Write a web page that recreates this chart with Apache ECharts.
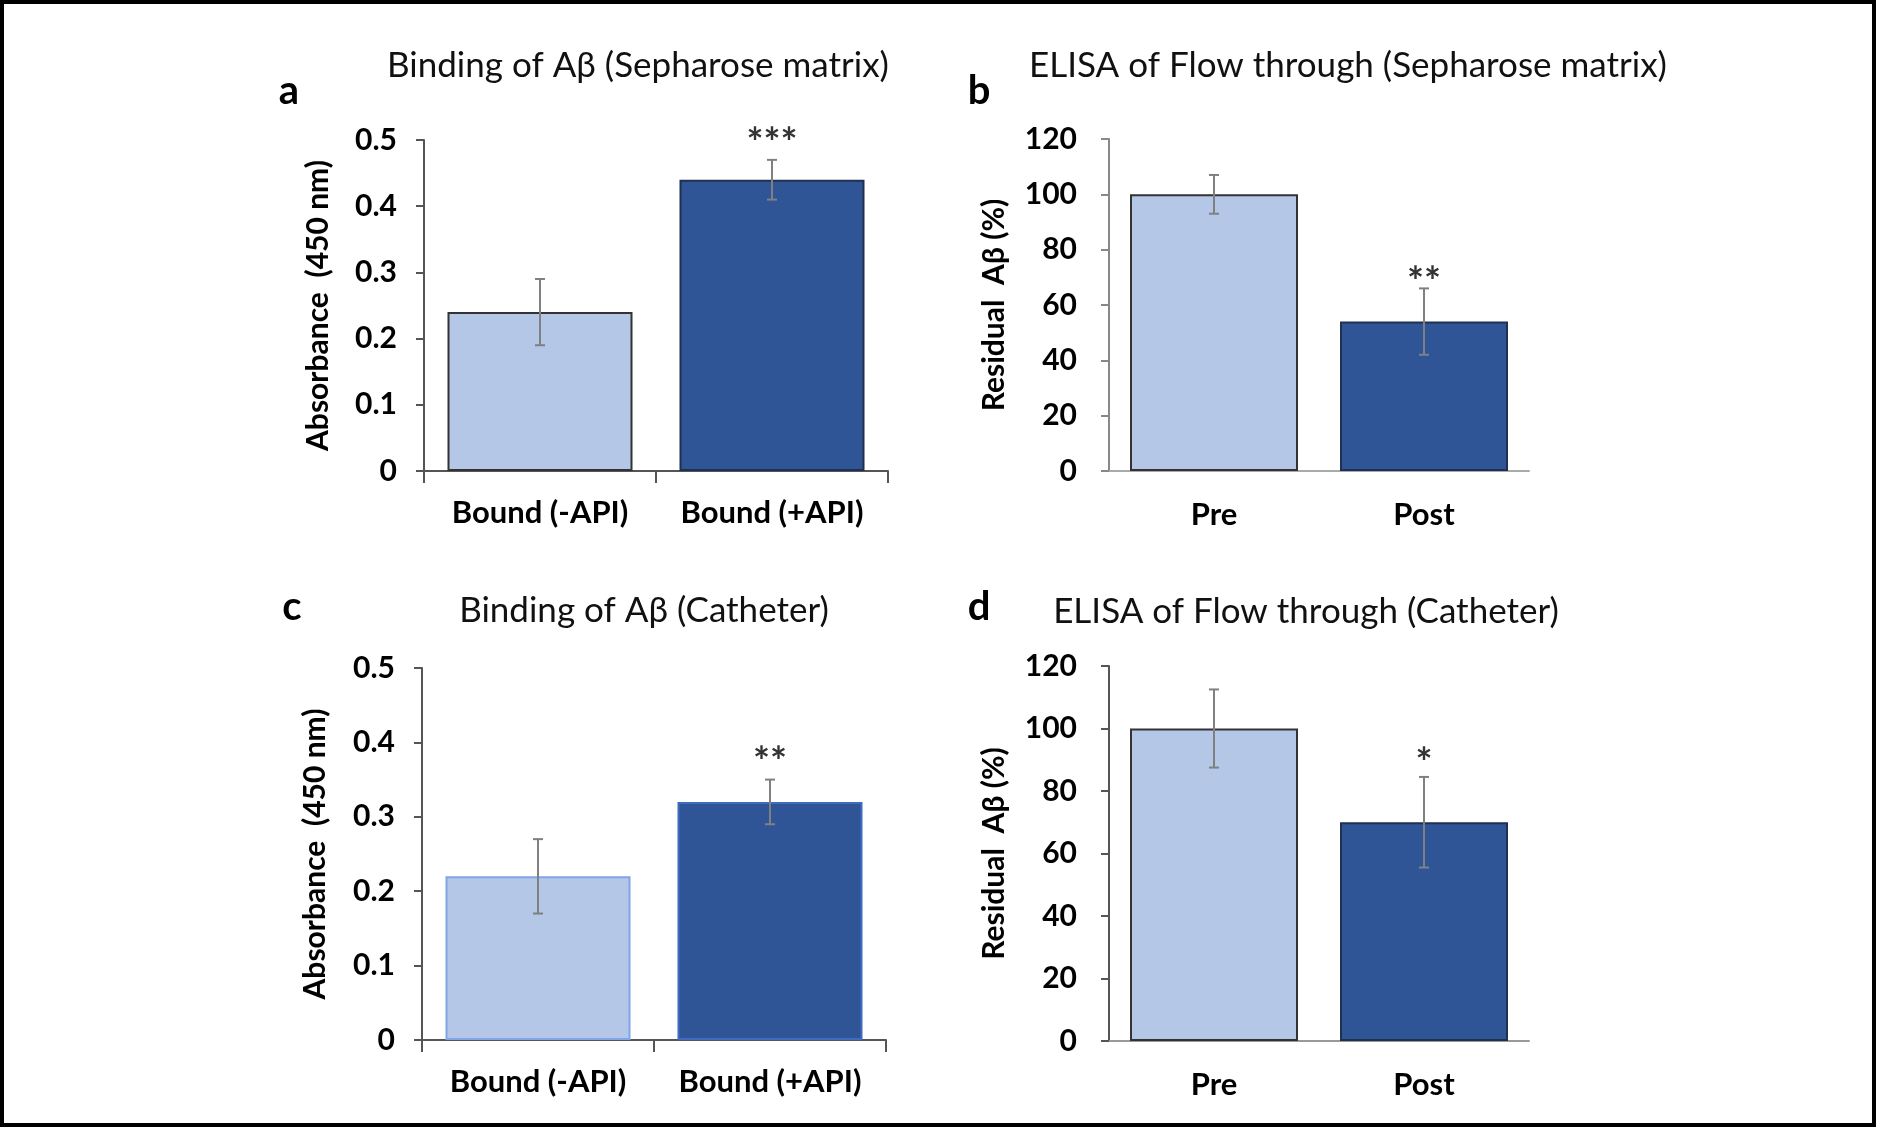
<!DOCTYPE html>
<html><head><meta charset="utf-8">
<script src="https://cdn.jsdelivr.net/npm/echarts@6/dist/echarts.min.js"></script>
<style>html,body{margin:0;padding:0;background:#fff}#c{width:1880px;height:1130px}</style>
</head><body><div id="c"></div>
<script>
// ---- data ----
const catsBound = ['Bound (-API)', 'Bound (+API)'];
const catsPrePost = ['Pre', 'Post'];
const aVals = [0.24, 0.44];
const aErr = [0.05, 0.03];
const aSig = ['', '***'];
const bVals = [100, 54];
const bErr = [7, 12];
const bSig = ['', '**'];
const cVals = [0.22, 0.32];
const cErr = [0.05, 0.03];
const cSig = ['', '**'];
const dVals = [100, 70];
const dErr = [12.5, 14.5];
const dSig = ['', '*'];
const titles = ['Binding of A\u03b2 (Sepharose matrix)', 'ELISA of Flow through (Sepharose matrix)',
                'Binding of A\u03b2 (Catheter)', 'ELISA of Flow through (Catheter)'];
const letters = ['a', 'b', 'c', 'd'];
const yNames = ['Absorbance  (450 nm)', 'Residual  A\u03b2 (%)', 'Absorbance  (450 nm)', 'Residual  A\u03b2 (%)'];

const FONT = 'Lato, "Open Sans", sans-serif';
const LIGHT = '#B4C7E7', DARK = '#2F5597';

const chart = echarts.init(document.getElementById('c'));

const grids = [
  {left: 424, top: 140, width: 464, height: 331},
  {left: 1109, top: 139, width: 420, height: 332},
  {left: 422, top: 668, width: 464, height: 372},
  {left: 1109, top: 666, width: 420, height: 375}
];
const yCfg = [
  {max: 0.5, interval: 0.1, fmt: v => v === 0 ? '0' : v.toFixed(1), axisColor: '#555', gap: 91, margin: 27},
  {max: 120, interval: 20, fmt: v => String(v), axisColor: '#888', gap: 100, margin: 32},
  {max: 0.5, interval: 0.1, fmt: v => v === 0 ? '0' : v.toFixed(1), axisColor: '#555', gap: 92, margin: 27},
  {max: 120, interval: 20, fmt: v => String(v), axisColor: '#555', gap: 100, margin: 32}
];
const xCfg = [
  {cats: catsBound, ticks: true, color: '#555', gap: 26},
  {cats: catsPrePost, ticks: false, color: '#aaa', gap: 28},
  {cats: catsBound, ticks: true, color: '#555', gap: 26},
  {cats: catsPrePost, ticks: false, color: '#999', gap: 28}
];
const panels = [
  {vals: aVals, err: aErr, sig: aSig, barW: 185, border: ['#333', '#1F3050'], sigOff: 27},
  {vals: bVals, err: bErr, sig: bSig, barW: 168, border: ['#333', '#1F3050'], sigOff: 16},
  {vals: cVals, err: cErr, sig: cSig, barW: 185, border: ['#7FA5E6', '#3F6CC0'], sigOff: 28},
  {vals: dVals, err: dErr, sig: dSig, barW: 168, border: ['#333', '#1F3050'], sigOff: 24}
];

const xAxis = [], yAxis = [], series = [];
for (let i = 0; i < 4; i++) {
  xAxis.push({
    type: 'category', gridIndex: i, data: xCfg[i].cats, boundaryGap: true,
    axisLine: {show: true, lineStyle: {color: xCfg[i].color, width: 2}},
    axisTick: {show: xCfg[i].ticks, inside: false, length: 12, lineStyle: {color: '#555', width: 2}},
    axisLabel: {interval: 0, color: '#000', fontFamily: FONT, fontWeight: 'bold', fontSize: 31, margin: xCfg[i].gap},
    splitLine: {show: false}
  });
  yAxis.push({
    type: 'value', gridIndex: i, min: 0, max: yCfg[i].max, interval: yCfg[i].interval,
    axisLine: {show: true, lineStyle: {color: yCfg[i].axisColor, width: 2}},
    axisTick: {show: true, inside: false, length: 8, lineStyle: {color: yCfg[i].axisColor, width: 2}},
    axisLabel: {color: '#000', fontFamily: FONT, fontWeight: 'bold', fontSize: 30, margin: yCfg[i].margin,
                formatter: yCfg[i].fmt},
    splitLine: {show: false},
    name: yNames[i], nameLocation: 'middle', nameRotate: 90, nameGap: yCfg[i].gap,
    nameTextStyle: {color: '#000', fontFamily: FONT, fontWeight: 'bold', fontSize: 30}
  });
  const p = panels[i];
  series.push({
    type: 'bar', xAxisIndex: i, yAxisIndex: i, barWidth: p.barW, silent: true,
    data: p.vals.map((v, k) => ({value: v, itemStyle: {color: k === 0 ? LIGHT : DARK,
      borderColor: p.border[k], borderWidth: 2}}))
  });
  series.push({
    type: 'custom', xAxisIndex: i, yAxisIndex: i, silent: true, z: 5,
    data: p.vals.map((v, k) => [k, v, p.err[k]]),
    renderItem: function (params, api) {
      const x = api.value(0), v = api.value(1), e = api.value(2);
      const t = api.coord([x, v + e]), b = api.coord([x, v - e]);
      const st = {stroke: '#808080', lineWidth: 2};
      return {type: 'group', children: [
        {type: 'line', shape: {x1: t[0], y1: t[1], x2: b[0], y2: b[1]}, style: st},
        {type: 'line', shape: {x1: t[0] - 5, y1: t[1], x2: t[0] + 5, y2: t[1]}, style: st},
        {type: 'line', shape: {x1: b[0] - 5, y1: b[1], x2: b[0] + 5, y2: b[1]}, style: st}
      ]};
    }
  });
  series.push({
    type: 'custom', xAxisIndex: i, yAxisIndex: i, silent: true, z: 6,
    data: p.vals.map((v, k) => [k, v + p.err[k]]),
    renderItem: function (params, api) {
      const s = p.sig[params.dataIndex];
      if (!s) return null;
      const c = api.coord([api.value(0), api.value(1)]);
      return {type: 'text', x: c[0], y: c[1] - p.sigOff + 11,
        style: {text: s, fill: '#333', font: 'bold 40px ' + FONT, textAlign: 'center', textVerticalAlign: 'middle'}};
    }
  });
}

const graphics = [
  {type: 'rect', shape: {x: 2, y: 2, width: 1872, height: 1123},
   style: {fill: null, stroke: '#000', lineWidth: 4}, silent: true}
];
const titlePos = [[638, 66], [1348, 66], [644, 611], [1306, 612]];
const letterPos = [[289, 91], [979, 91], [292, 607], [979, 607]];
for (let i = 0; i < 4; i++) {
  graphics.push({type: 'text', x: titlePos[i][0], y: titlePos[i][1],
    style: {text: titles[i], fill: '#111', font: '35px ' + FONT, textAlign: 'center', textVerticalAlign: 'middle'}});
  graphics.push({type: 'text', x: letterPos[i][0], y: letterPos[i][1],
    style: {text: letters[i], fill: '#000', font: 'bold 40px ' + FONT, textAlign: 'center', textVerticalAlign: 'middle'}});
}

chart.setOption({
  animation: false,
  backgroundColor: '#fff',
  grid: grids,
  xAxis: xAxis,
  yAxis: yAxis,
  series: series,
  graphic: graphics
});
</script></body></html>
